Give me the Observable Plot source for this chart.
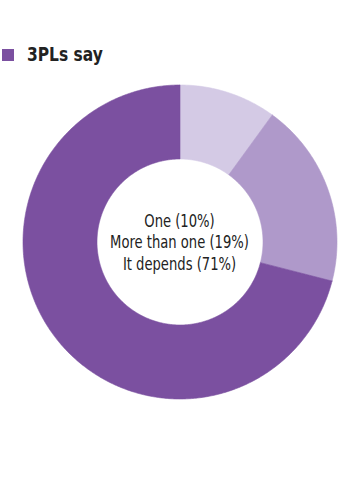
<!DOCTYPE html>
<html><head><meta charset="utf-8">
<script src="https://cdn.jsdelivr.net/npm/d3@7"></script>
<script src="https://cdn.jsdelivr.net/npm/@observablehq/plot@0.6"></script>
<style>
body{margin:0;background:#fff;width:360px;height:491px;overflow:hidden}
#legend{position:relative;height:80px}
#legend .sw{position:absolute;left:2px;top:49px;width:12px;height:12px}
#legend .lb{position:absolute;left:27px;top:42px;font:bold 20px "DejaVu Sans Condensed",sans-serif;color:#222;line-height:24px;transform:scaleX(0.86);transform-origin:0 0;white-space:nowrap}
#chart svg{display:block}
</style></head><body>
<div id="legend"></div><div id="chart"></div>
<script>
const seriesName = "3PLs say";
const categories = ["One", "More than one", "It depends"];
const values = [10, 19, 71];
const colors = ["#d4cae5", "#af99ca", "#7b50a0"];
const innerRatio = 83 / 157;

const legend = document.getElementById("legend");
legend.innerHTML = `<div class="sw" style="background:${colors[2]}"></div><div class="lb">${seriesName}</div>`;

const slices = d3.pie().sort(null).value(d => d.value)(
  categories.map((c, i) => ({category: c, value: values[i], color: colors[i]}))
);

function ring(s) {
  const n = Math.max(8, Math.ceil((s.endAngle - s.startAngle) / 0.01));
  const out = [];
  for (let k = 0; k <= n; k++) {
    const a = s.startAngle + (s.endAngle - s.startAngle) * k / n;
    out.push({x: Math.sin(a), y: Math.cos(a)});
  }
  for (let k = n; k >= 0; k--) {
    const a = s.startAngle + (s.endAngle - s.startAngle) * k / n;
    out.push({x: innerRatio * Math.sin(a), y: innerRatio * Math.cos(a)});
  }
  out.push(out[0]);
  return out;
}

const label = categories.map((c, i) => `${c} (${values[i]}%)`).join("\n");

const chart = Plot.plot({
  width: 360,
  height: 411,
  margin: 0,
  x: {domain: [-1, 1], range: [22.5, 336.5], axis: null},
  y: {domain: [-1, 1], range: [318.5, 4.5], axis: null},
  marks: [
    ...slices.map(s => Plot.line(ring(s), {x: "x", y: "y", fill: s.data.color, stroke: s.data.color, strokeWidth: 0.6})),
    Plot.text([label], {x: () => 0, y: () => 0, dy: 7, text: d => d, fontSize: 18.5, lineHeight: 1.17,
      fill: "#222", fontFamily: "'DejaVu Sans Condensed',sans-serif"})
  ]
});
const cx = chart.scale("x").apply(0);
const tg = chart.querySelector('g[aria-label="text"]');
if (tg) tg.setAttribute("transform", `translate(${cx},0) scale(0.79,1) translate(${-cx},0)`);
document.getElementById("chart").append(chart);
</script>
</body></html>
